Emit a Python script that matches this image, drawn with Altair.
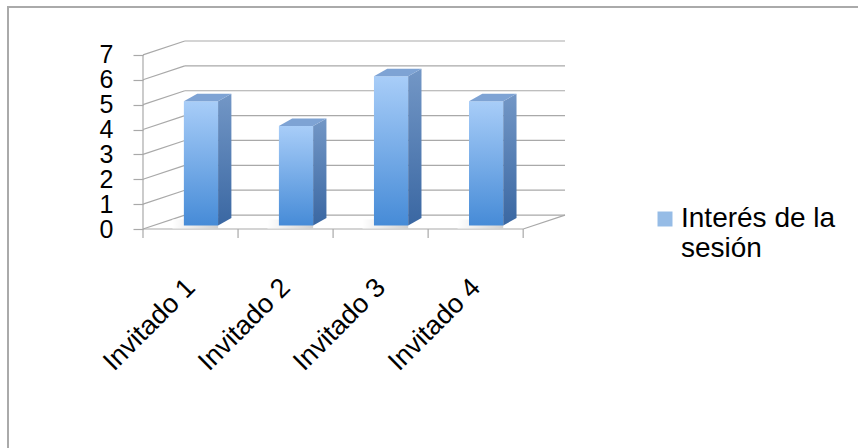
import json

import altair as alt
import pandas as pd

# ---- chart data -------------------------------------------------------------
CATEGORIES = ["Invitado 1", "Invitado 2", "Invitado 3", "Invitado 4"]
VALUES = [5, 4, 6, 5]
SERIES = "Interés de la sesión"
LEGEND_BREAK = len("Interés de la")  # legend label wraps after this many chars
Y_TICKS = [0, 1, 2, 3, 4, 5, 6, 7]

# ---- oblique "3-D" geometry, in data units -----------------------------------
WALL_DX, WALL_DY = 0.44, 0.56      # depth of floor / side wall
BAR_W = 0.36                       # width of a column's front face
BAR_DX, BAR_DY = 0.14, 0.30        # depth of a column
BASE_DX, BASE_DY = 0.11, 0.14      # columns stand a little back on the floor
SHADOW_DX, SHADOW_DY = 0.12, 0.12  # soft shadow on the floor under a column
TICK_LEN = 0.36

X_LO, X_HI = 0.5, len(CATEGORIES) + 0.5
Y_TOP = max(Y_TICKS) + WALL_DY

FONT = "Liberation Sans"
GRID = "#a9a9a9"

# front faces, side faces and top faces of the columns
front_rows, side_rows, top_rows = [], [], []
for i, (cat, v) in enumerate(zip(CATEGORIES, VALUES), start=1):
    x0 = i - BAR_W / 2 + BASE_DX
    x1 = x0 + BAR_W
    y0 = BASE_DY
    y1 = BASE_DY + v
    front_rows.append(dict(cat=cat, series=SERIES, x0=x0, x1=x1, y0=y0, y1=y1,
                           sx0=x0 - SHADOW_DX, sy0=y0 - SHADOW_DY, sy1=y0 + 2 * SHADOW_DY))
    side_rows += [
        dict(cat=cat, x=x1, y=y1, y2=y0),
        dict(cat=cat, x=x1 + BAR_DX, y=y1 + BAR_DY, y2=y0 + BAR_DY),
    ]
    top_rows += [
        dict(cat=cat, x=x0, y=y1, y2=y1),
        dict(cat=cat, x=x0 + BAR_DX, y=y1 + BAR_DY, y2=y1),
        dict(cat=cat, x=x1, y=y1 + BAR_DY, y2=y1),
        dict(cat=cat, x=x1 + BAR_DX, y=y1 + BAR_DY, y2=y1 + BAR_DY),
    ]
front = pd.DataFrame(front_rows)
side = pd.DataFrame(side_rows)
top = pd.DataFrame(top_rows)

# wall / floor lines
seg = []
for k in Y_TICKS:
    seg.append(dict(x=X_LO, x2=X_LO + WALL_DX, y=k, y2=k + WALL_DY))            # side wall
    seg.append(dict(x=X_LO + WALL_DX, x2=X_HI + WALL_DX, y=k + WALL_DY, y2=k + WALL_DY))  # back wall
seg.append(dict(x=X_LO, x2=X_LO, y=0, y2=max(Y_TICKS)))                          # front-left edge
seg.append(dict(x=X_LO, x2=X_HI, y=0, y2=0))                                    # floor front edge
seg.append(dict(x=X_HI, x2=X_HI + WALL_DX, y=0, y2=WALL_DY))                    # floor right edge
for b in range(len(CATEGORIES) + 1):
    seg.append(dict(x=X_LO + b, x2=X_LO + b, y=0, y2=-TICK_LEN))                # category ticks
lines = pd.DataFrame(seg)

xs = alt.Scale(domain=[X_LO, X_HI + WALL_DX], nice=False, zero=False)
ys = alt.Scale(domain=[0, Y_TOP], nice=False, zero=False)

label_expr = f"{json.dumps(CATEGORIES, ensure_ascii=False)}[datum.value - 1]"
x_axis = alt.Axis(
    values=list(range(1, len(CATEGORIES) + 1)), labelExpr=label_expr, title=None,
    grid=False, domain=False, ticks=False, labelAngle=-45, labelAlign="right",
    labelBaseline="middle", labelPadding=54, labelFontSize=27, labelFont=FONT,
    labelColor="#000000", labelOverlap=False,
)
y_axis = alt.Axis(
    values=Y_TICKS, title=None, grid=False, domain=False, ticks=True, tickSize=10,
    tickColor=GRID, tickWidth=1.2, labelPadding=20, labelFontSize=25, labelFont=FONT,
    labelColor="#000000", labelOverlap=False, labelBound=False,
)


def X(field):
    return alt.X(field, type="quantitative", scale=xs, axis=x_axis)


def Y(field):
    return alt.Y(field, type="quantitative", scale=ys, axis=y_axis)


frame = alt.Chart(pd.DataFrame({"f": [0]})).mark_rect(
    fillOpacity=0, stroke="#aaaaaa", strokeWidth=2
).encode(x=alt.value(-135), x2=alt.value(740), y=alt.value(-34), y2=alt.value(430))

wall = alt.Chart(lines).mark_rule(color=GRID, strokeWidth=1.2).encode(
    x=X("x"), x2="x2:Q", y=Y("y"), y2="y2:Q",
)

shadow_grad = alt.Gradient(
    gradient="linear", x1=0, x2=1, y1=0, y2=0,
    stops=[alt.GradientStop(color="#ffffff", offset=0),
           alt.GradientStop(color="#cccccc", offset=1)],
)
shadows = alt.Chart(front).mark_rect(fill=shadow_grad, opacity=0.9).encode(
    x=X("sx0"), x2="x1:Q", y=Y("sy0"), y2="sy1:Q",
)

front_grad = alt.Gradient(
    gradient="linear", x1=0, x2=0, y1=0, y2=1,
    stops=[alt.GradientStop(color="#a8cdf8", offset=0),
           alt.GradientStop(color="#468bd7", offset=1)],
)
side_grad = alt.Gradient(
    gradient="linear", x1=0, x2=0, y1=0, y2=1,
    stops=[alt.GradientStop(color="#7397c6", offset=0),
           alt.GradientStop(color="#3a67a2", offset=1)],
)

front_faces = alt.Chart(front).mark_rect(fill=front_grad).encode(
    x=X("x0"), x2="x1:Q", y=Y("y1"), y2="y0:Q",
)
side_faces = alt.Chart(side).mark_area(fill=side_grad, line=False).encode(
    x=X("x"), y=Y("y"), y2="y2:Q", detail="cat:N",
)
top_faces = alt.Chart(top).mark_area(color="#7ea3d4", line=False).encode(
    x=X("x"), y=Y("y"), y2="y2:Q", detail="cat:N",
)

legend_expr = f"[slice(datum.label, 0, {LEGEND_BREAK}), slice(datum.label, {LEGEND_BREAK + 1})]"
legend_layer = alt.Chart(front).mark_square(filled=True, size=225).encode(
    color=alt.Color(
        "series:N",
        scale=alt.Scale(domain=[SERIES], range=["#6a9fdc"]),
        legend=alt.Legend(
            title=None, orient="none", legendX=508, legendY=164, padding=0,
            symbolType="square", symbolSize=225, symbolStrokeWidth=0,
            labelFontSize=28, labelFont=FONT, labelColor="#000000",
            labelExpr=legend_expr, labelLimit=400, labelOffset=2,
        ),
    )
).transform_filter("false")

chart = alt.layer(
    frame, wall, shadows, front_faces, side_faces, top_faces, legend_layer
).properties(
    width=422, height=188,
    padding={"left": 143, "top": 41, "right": 293, "bottom": 219},
    autosize=alt.AutoSizeParams(type="none"),
    background="#ffffff",
).configure_view(stroke=None)

chart.save("out.html", embed_options={"renderer": "svg", "actions": False})
